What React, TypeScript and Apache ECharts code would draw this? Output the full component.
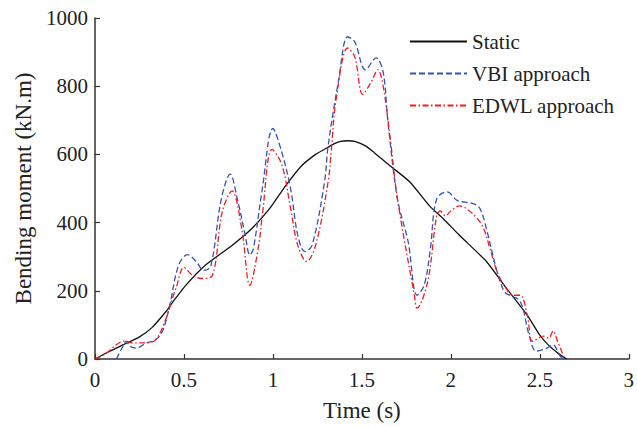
import React, { useEffect, useRef } from "react";
import * as echarts from "echarts";

const staticT = [0, 0.08, 0.16, 0.25, 0.32, 0.4, 0.44, 0.51, 0.62, 0.77, 0.88, 0.98, 1.07, 1.16, 1.24, 1.29, 1.34, 1.38, 1.42, 1.46, 1.52, 1.57, 1.66, 1.77, 1.88, 1.96, 2.05, 2.2, 2.3, 2.43, 2.5, 2.55, 2.6, 2.65];
const staticV = [0, 22, 42, 65, 92, 140, 169, 216, 275, 333, 382, 440, 507, 566, 600, 615, 630, 638, 640, 638, 625, 605, 566, 519, 449, 410, 362, 286, 216, 128, 70, 40, 18, 0];

const vbiT = [0.12, 0.15, 0.177, 0.195, 0.23, 0.29, 0.34, 0.38, 0.42, 0.47, 0.52, 0.57, 0.61, 0.65, 0.71, 0.76, 0.8, 0.845, 0.87, 0.89, 0.94, 1.0, 1.05, 1.1, 1.14, 1.18, 1.22, 1.29, 1.31, 1.37, 1.42, 1.46, 1.52, 1.58, 1.62, 1.645, 1.7, 1.76, 1.81, 1.85, 1.885, 1.92, 1.98, 2.035, 2.08, 2.13, 2.165, 2.2, 2.26, 2.3, 2.33, 2.39, 2.44, 2.48, 2.54, 2.575, 2.61, 2.63];
const vbiV = [0, 30, 52, 38, 32, 47, 56, 82, 158, 275, 306, 285, 260, 271, 469, 542, 469, 362, 305, 323, 498, 676, 606, 498, 362, 315, 333, 519, 624, 819, 945, 930, 848, 883, 840, 703, 469, 344, 187, 216, 323, 469, 490, 465, 460, 455, 440, 382, 256, 198, 187, 169, 70, 23, 32, 41, 12, 0];

const edwlT = [0, 0.06, 0.12, 0.167, 0.21, 0.27, 0.34, 0.4, 0.435, 0.455, 0.5, 0.55, 0.6, 0.66, 0.715, 0.77, 0.825, 0.87, 0.92, 0.94, 0.995, 1.05, 1.1, 1.14, 1.19, 1.24, 1.31, 1.33, 1.355, 1.42, 1.46, 1.505, 1.55, 1.59, 1.62, 1.66, 1.7, 1.795, 1.81, 1.87, 1.92, 1.94, 1.97, 2.0, 2.05, 2.09, 2.15, 2.185, 2.22, 2.26, 2.3, 2.35, 2.39, 2.43, 2.46, 2.52, 2.55, 2.575, 2.6, 2.64];
const edwlV = [0, 15, 42, 53, 47, 47, 56, 120, 178, 207, 268, 245, 236, 245, 431, 493, 382, 216, 333, 420, 615, 570, 440, 333, 286, 333, 519, 624, 761, 912, 886, 776, 810, 848, 799, 644, 469, 187, 149, 227, 420, 434, 420, 434, 449, 440, 411, 382, 324, 256, 216, 187, 187, 128, 52, 67, 61, 82, 52, 0];

const seriesNames = ["Static", "VBI approach", "EDWL approach"];

const zip = (t: number[], v: number[]) => t.map((x, i) => [x, v[i]]);

const FONT = '"Liberation Serif", "Times New Roman", serif';

export default function App() {
  const ref = useRef<HTMLDivElement>(null);
  useEffect(() => {
    if (!ref.current) return;
    const chart = echarts.init(ref.current, undefined, { renderer: "svg" });
    const axisCommon = {
      axisLine: { show: true, onZero: false, lineStyle: { color: "#333", width: 1.5 } },
      axisTick: { show: true, inside: true, length: 5, lineStyle: { color: "#333", width: 1.2 } },
      splitLine: { show: false },
      axisLabel: { color: "#222", fontSize: 21, fontFamily: FONT, formatter: (v: number) => String(v) },
      nameTextStyle: { color: "#222", fontSize: 23, fontFamily: FONT },
    };
    chart.setOption({
      animation: false,
      backgroundColor: "#fff",
      textStyle: { fontFamily: FONT },
      grid: { left: 95, right: 4, top: 18, bottom: 66 },
      legend: {
        orient: "vertical",
        left: 404,
        top: 26,
        itemWidth: 57,
        itemHeight: 10,
        itemGap: 11,
        itemStyle: { opacity: 0 },
        textStyle: { color: "#222", fontSize: 21, fontFamily: FONT },
        data: seriesNames,
      },
      xAxis: {
        type: "value",
        min: 0,
        max: 3,
        interval: 0.5,
        name: "Time (s)",
        nameLocation: "middle",
        nameGap: 40,
        ...axisCommon,
        axisLabel: { ...axisCommon.axisLabel, margin: 10 },
      },
      yAxis: {
        type: "value",
        min: 0,
        max: 1000,
        interval: 200,
        name: "Bending moment (kN.m)",
        nameLocation: "middle",
        nameGap: 56,
        ...axisCommon,
        axisLabel: { ...axisCommon.axisLabel, margin: 7 },
      },
      series: [
        {
          name: seriesNames[0],
          type: "line",
          data: zip(staticT, staticV),
          showSymbol: false,
          symbol: "none",
          smooth: 0.2,
          lineStyle: { color: "#111", width: 1.3, type: "solid" },
          itemStyle: { color: "#111" },
        },
        {
          name: seriesNames[1],
          type: "line",
          data: zip(vbiT, vbiV),
          showSymbol: false,
          symbol: "none",
          smooth: 0.35,
          lineStyle: { color: "#3553b8", width: 1.3, type: [6, 3] },
          itemStyle: { color: "#3553b8" },
        },
        {
          name: seriesNames[2],
          type: "line",
          data: zip(edwlT, edwlV),
          showSymbol: false,
          symbol: "none",
          smooth: 0.35,
          lineStyle: { color: "#ee1c25", width: 1.3, type: [6, 2.5, 1.5, 2.5] },
          itemStyle: { color: "#ee1c25" },
        },
      ],
    });
    return () => chart.dispose();
  }, []);
  return <div ref={ref} style={{ width: 637, height: 427, position: "absolute", left: 0, top: 0 }} />;
}
